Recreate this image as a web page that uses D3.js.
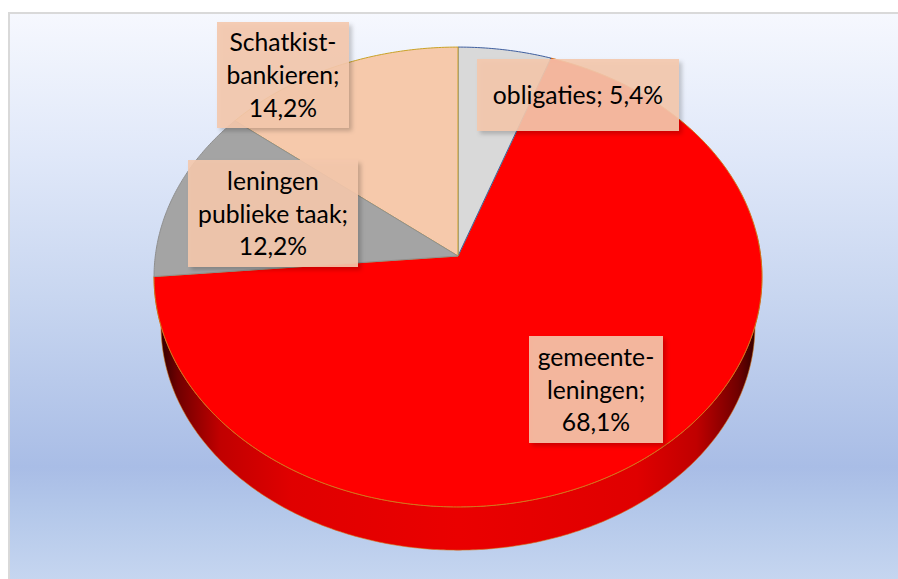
<!DOCTYPE html>
<html>
<head>
<meta charset="utf-8">
<script src="https://cdn.jsdelivr.net/npm/d3@7"></script>
<style>
  html, body { margin: 0; padding: 0; background: #fff; overflow: hidden; }
  text { font-family: Lato, "Open Sans", sans-serif; }
</style>
</head>
<body>
<div id="chart"></div>
<script>
// chart data, order as in the pie (clockwise from 12 o'clock)
const categories = ["obligaties", "gemeenteleningen", "leningen publieke taak", "Schatkistbankieren"];
const values = [5.4, 68.1, 12.2, 14.2];
const labelLines = [
    ["obligaties; 5,4%"],
    ["gemeente-", "leningen;", "68,1%"],
    ["leningen", "publieke taak;", "12,2%"],
    ["Schatkist-", "bankieren;", "14,2%"]
];

const width = 898;
const height = 579;

const sliceFill = ["#d9d9d9", "#ff0000", "#a4a4a4", "#f6c9ab"];
const sliceEdge = ["#3f5f9f", "#d4761a", "#8f8f8f", "#c9a227"];
// later slices paint their edge over the neighbours
const drawOrder = [1, 0, 3, 2];
// label boxes: x, y, w, h
const labelBox = [
    [477, 59, 202, 72],
    [529, 336, 134, 107],
    [188, 160, 170, 107],
    [217, 22, 132, 106]
];

// pie is tilted and seen in perspective, so rim points go through this
const apex = { x: 458, y: 256 };
const tilt = { rx: 302.7, ry: 228, k: 0.0913 };
const wallDrop = 49;
const wallScale = 0.977;

function rimPoint(angle, level) {
    const s = Math.sin(angle), c = Math.cos(angle);
    const w = 1 + tilt.k * c;
    const f = level ? wallScale : 1;
    return [
        apex.x + f * tilt.rx * s / w,
        apex.y + (level ? wallDrop : 0) - f * tilt.ry * c / w
    ];
}

function rimRange(a0, a1, level) {
    const n = Math.max(2, Math.ceil(Math.abs(a1 - a0) / 0.01));
    return d3.range(n + 1).map(i => rimPoint(a0 + (a1 - a0) * i / n, level));
}

const svg = d3.select("#chart").append("svg")
    .attr("width", width)
    .attr("height", height)
    .style("display", "block");

const defs = svg.append("defs");

const bg = defs.append("linearGradient").attr("id", "bg")
    .attr("x1", 0).attr("y1", 0).attr("x2", 0).attr("y2", 1);
[[0, "#f6f8fe"], [0.25, "#e0e8f9"], [0.5, "#c8d6f0"], [0.8, "#a9bde6"], [0.88, "#b4c8ea"], [1, "#c6d6f0"]]
    .forEach(d => bg.append("stop").attr("offset", d[0]).attr("stop-color", d[1]));

const wall = defs.append("linearGradient").attr("id", "wall")
    .attr("gradientUnits", "userSpaceOnUse")
    .attr("x1", 160).attr("y1", 0).attr("x2", 756).attr("y2", 0);
[[0, "#300000"], [0.03, "#700000"], [0.1, "#c00000"], [0.22, "#e00000"], [0.5, "#ea0000"], [0.8, "#e00000"], [0.9, "#c00000"], [0.97, "#700000"], [1, "#300000"]]
    .forEach(d => wall.append("stop").attr("offset", d[0]).attr("stop-color", d[1]));

const shadow = defs.append("filter").attr("id", "labelShadow")
    .attr("x", "-15%").attr("y", "-15%").attr("width", "130%").attr("height", "130%");
shadow.append("feDropShadow")
    .attr("dx", 3).attr("dy", 3).attr("stdDeviation", 2)
    .attr("flood-color", "#000").attr("flood-opacity", 0.22);

// background panel
svg.append("rect")
    .attr("x", 9).attr("y", 13)
    .attr("width", width - 9 + 2).attr("height", height - 13 + 2)
    .attr("fill", "url(#bg)")
    .attr("stroke", "#d9d9d9")
    .attr("stroke-width", 2);

const pie = d3.pie().sort(null).value(d => d);
const arcs = pie(values);
const line = d3.line();

// wall of the disc, only the front part of the rim shows
const front = arcs[1];
const wallStart = Math.max(front.startAngle, Math.PI / 2 - 0.1);
const wallEnd = Math.min(front.endAngle, 3 * Math.PI / 2 + 0.1);
svg.append("path")
    .attr("d", line(rimRange(wallStart, wallEnd, 0).concat(rimRange(wallEnd, wallStart, 1))) + "Z")
    .attr("fill", "url(#wall)")
    .attr("stroke", "#d4761a")
    .attr("stroke-width", 0.6);

// top face
svg.append("g").selectAll("path")
    .data(drawOrder)
    .join("path")
    .attr("d", i => line([[apex.x, apex.y]].concat(rimRange(arcs[i].startAngle, arcs[i].endAngle, 0))) + "Z")
    .attr("fill", i => sliceFill[i])
    .attr("stroke", i => sliceEdge[i])
    .attr("stroke-width", 1)
    .attr("stroke-linejoin", "round");

// labels
const labels = svg.append("g").selectAll("g")
    .data(labelLines)
    .join("g")
    .attr("transform", (d, i) => `translate(${labelBox[i][0]},${labelBox[i][1]})`);

labels.append("rect")
    .attr("width", (d, i) => labelBox[i][2])
    .attr("height", (d, i) => labelBox[i][3])
    .attr("fill", "#f4c8ac")
    .attr("fill-opacity", 0.9)
    .attr("filter", "url(#labelShadow)");

labels.each(function (lines, i) {
    const box = labelBox[i];
    const lineH = 32.7;
    const top = box[3] / 2 - lineH * (lines.length - 1) / 2;
    d3.select(this).selectAll("text")
        .data(lines)
        .join("text")
        .attr("x", box[2] / 2)
        .attr("y", (d, j) => top + j * lineH)
        .attr("dy", "0.37em")
        .attr("text-anchor", "middle")
        .attr("font-size", 24.7)
        .attr("fill", "#000")
        .text(d => d);
});
</script>
</body>
</html>
